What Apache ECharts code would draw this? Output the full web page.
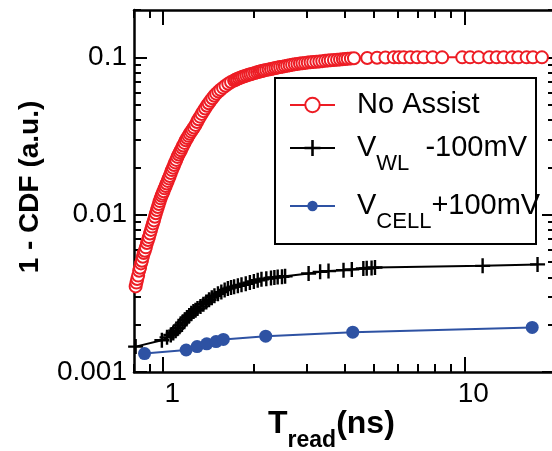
<!DOCTYPE html>
<html>
<head>
<meta charset="utf-8">
<script src="https://cdn.jsdelivr.net/npm/echarts@6/dist/echarts.min.js"></script>
<style>
  html, body { margin: 0; padding: 0; background: #fff; }
  #chart { width: 552px; height: 451px; }
</style>
</head>
<body>
<div id="chart"></div>
<script>
// No Assist (red open circles)
const noAssistT = [0.810, 0.815, 0.820, 0.826, 0.832, 0.838, 0.844, 0.850, 0.856, 0.862,
  0.869, 0.876, 0.883, 0.890, 0.897, 0.904, 0.911, 0.918, 0.925, 0.932,
  0.939, 0.946, 0.953, 0.960, 0.967, 0.974, 0.981, 0.988, 0.995, 1.003,
  1.011, 1.019, 1.027, 1.035, 1.043, 1.051, 1.060, 1.069, 1.078, 1.087,
  1.096, 1.105, 1.115, 1.125, 1.135, 1.145, 1.155, 1.165, 1.177, 1.189,
  1.201, 1.213, 1.225, 1.238, 1.251, 1.265, 1.280, 1.295, 1.310, 1.326,
  1.342, 1.360, 1.378, 1.397, 1.416, 1.436, 1.457, 1.479, 1.500, 1.525,
  1.550, 1.580, 1.610, 1.645, 1.680, 1.720, 1.740, 1.760, 1.785, 1.810,
  1.835, 1.860, 1.890, 1.920, 1.950, 1.980, 2.015, 2.050, 2.080, 2.110,
  2.140, 2.165, 2.200, 2.240, 2.280, 2.320, 2.360, 2.400, 2.445, 2.490,
  2.535, 2.580, 2.630, 2.680, 2.735, 2.790, 2.845, 2.900, 2.960, 3.020,
  3.085, 3.150, 3.225, 3.300, 3.375, 3.450, 3.525, 3.600, 3.690, 3.780,
  3.865, 3.950, 4.020, 4.100, 4.200,
  4.30, 4.76, 5.13, 5.47, 5.83, 6.06, 6.29, 6.62, 6.97, 7.33,
  7.85, 8.44, 9.84, 10.45, 11.15, 12.1, 12.8, 13.5, 14.4, 15.1,
  16.1, 16.9, 18.1];
const noAssistCdf = [0.0035, 0.0037, 0.0039, 0.0041, 0.0044, 0.0046, 0.0049, 0.0051, 0.0054, 0.0057,
  0.0059, 0.0062, 0.0066, 0.0069, 0.0072, 0.0076, 0.0080, 0.0084, 0.0088, 0.0092,
  0.0097, 0.0102, 0.0107, 0.0112, 0.0117, 0.0122, 0.0127, 0.0132, 0.0136, 0.0141,
  0.0147, 0.0152, 0.0158, 0.0164, 0.0170, 0.0176, 0.0184, 0.0192, 0.0199, 0.0207,
  0.0215, 0.0223, 0.0233, 0.0241, 0.0249, 0.0257, 0.0266, 0.0275, 0.0286, 0.0297,
  0.0307, 0.0317, 0.0327, 0.0337, 0.0347, 0.0358, 0.0372, 0.0388, 0.0404, 0.0420,
  0.0437, 0.0455, 0.0473, 0.0492, 0.0511, 0.0530, 0.0550, 0.0570, 0.0588, 0.0606,
  0.0623, 0.0642, 0.0660, 0.0679, 0.0697, 0.0713, 0.0721, 0.0729, 0.0737, 0.0745,
  0.0752, 0.0759, 0.0767, 0.0774, 0.0781, 0.0788, 0.0796, 0.0803, 0.0810, 0.0816,
  0.0821, 0.0826, 0.0832, 0.0838, 0.0844, 0.0850, 0.0855, 0.0861, 0.0867, 0.0873,
  0.0879, 0.0885, 0.0891, 0.0897, 0.0903, 0.0909, 0.0914, 0.0918, 0.0922, 0.0926,
  0.0930, 0.0934, 0.0938, 0.0942, 0.0946, 0.0950, 0.0954, 0.0958, 0.0962, 0.0966,
  0.0970, 0.0974, 0.0977, 0.0980, 0.0983,
  0.0986, 0.0991, 0.0995, 0.0998, 0.1000, 0.1000, 0.1000, 0.1000, 0.1000, 0.1000,
  0.1000, 0.1000, 0.1000, 0.1000, 0.1000, 0.1000, 0.1000, 0.1000, 0.1000, 0.1000,
  0.1000, 0.1000, 0.1000];

// V_WL -100mV (black plus)
const wlT = [0.81, 0.99, 1.03, 1.06, 1.08, 1.10, 1.12, 1.14, 1.16, 1.18,
  1.20, 1.22, 1.24, 1.26, 1.28, 1.30, 1.33, 1.36, 1.39, 1.42,
  1.45, 1.48, 1.52, 1.56, 1.60, 1.64, 1.68, 1.72, 1.77, 1.82,
  1.88, 1.94, 2.00, 2.06, 2.12, 2.20, 2.28, 2.34, 2.40, 2.48,
  2.54, 3.04, 3.32, 3.54, 3.97, 4.23, 4.62, 4.74, 4.92, 5.05,
  11.5, 17.5];
const wlCdf = [0.00145, 0.00159, 0.00166, 0.00172, 0.00177, 0.00183, 0.00190, 0.00198, 0.00206, 0.00214,
  0.00222, 0.00229, 0.00236, 0.00242, 0.00247, 0.00253, 0.00261, 0.00270, 0.00279, 0.00288,
  0.00297, 0.00305, 0.00314, 0.00322, 0.00332, 0.00339, 0.00344, 0.00348, 0.00353, 0.00358,
  0.00364, 0.00370, 0.00376, 0.00383, 0.00388, 0.00392, 0.00396, 0.00399, 0.00401, 0.00403,
  0.00406, 0.00423, 0.00433, 0.00438, 0.00444, 0.00449, 0.00455, 0.00456, 0.00459, 0.00462,
  0.00473, 0.00483];

// V_CELL +100mV (blue dots)
const cellT = [0.867, 1.192, 1.296, 1.395, 1.498, 1.584, 2.19, 4.26, 16.8];
const cellCdf = [0.00131, 0.00138, 0.00145, 0.00151, 0.00156, 0.00161, 0.00169, 0.00179, 0.00192];

// axis ticks
const xMajor = [1, 10];
const xMinor = [0.8, 0.9, 2, 3, 4, 5, 6, 7, 8, 9, 20];
const yMajor = [0.001, 0.01, 0.1];
const yMinor = [0.002, 0.003, 0.004, 0.005, 0.006, 0.007, 0.008, 0.009,
  0.02, 0.03, 0.04, 0.05, 0.06, 0.07, 0.08, 0.09, 0.2];

const FONT = '"Liberation Sans", Arial, sans-serif';
const RED = '#ED1C24';
const BLUE = '#2E52A3';
const PLUS = 'path://M6.3,0H8.7V6.3H15V8.7H8.7V15H6.3V8.7H0V6.3H6.3Z';

const zip = (a, b) => a.map((v, i) => [v, b[i]]);

const chart = echarts.init(document.getElementById('chart'));

const tickLine = { color: '#000', width: 2 };
const spine = { show: true, lineStyle: { color: '#000', width: 2.5 } };
const baseX = { type: 'log', logBase: 10, min: 0.8, max: 20, splitLine: { show: false },
  axisLine: { show: false }, axisLabel: { show: false }, axisTick: { show: false } };
const baseY = { type: 'log', logBase: 10, min: 0.001, max: 0.2, splitLine: { show: false },
  axisLine: { show: false }, axisLabel: { show: false }, axisTick: { show: false } };

const tick = (len, vals) => ({ show: true, inside: true, length: len, customValues: vals, lineStyle: tickLine });

const rich = {
  m: { fontSize: 29, fontFamily: FONT, color: '#000', lineHeight: 30, verticalAlign: 'top' },
  f: { fontSize: 29, fontFamily: FONT, color: '#000', lineHeight: 30, verticalAlign: 'top', padding: [0, 0, 0, 17] },
  s: { fontSize: 22, fontFamily: FONT, color: '#000', lineHeight: 22, verticalAlign: 'top', padding: [20, 0, 0, 0] }
};
const legendText = {
  'No Assist': '{f|No Assist}',
  'V_WL -100mV': '{f|V}{s|WL}{m|  -100mV}',
  'V_CELL +100mV': '{f|V}{s|CELL}{m|+100mV}'
};
const legendBase = {
  orient: 'vertical', padding: 0, itemWidth: 45, selectedMode: false,
  textStyle: { rich: rich },
  formatter: (name) => legendText[name]
};

chart.setOption({
  animation: false,
  backgroundColor: '#fff',
  grid: { left: 134, top: 10, right: -3, bottom: 79, containLabel: false, outerBoundsMode: 'none' },
  xAxis: [
    Object.assign({}, baseX, { position: 'bottom', axisLine: spine, axisTick: tick(15, xMajor),
      axisLabel: { show: true, customValues: xMajor, formatter: (v) => String(v), fontSize: 28,
        fontFamily: FONT, color: '#000', margin: 8, padding: [0, 0, 0, 18] } }),
    Object.assign({}, baseX, { position: 'bottom', axisTick: tick(8, xMinor) }),
    Object.assign({}, baseX, { position: 'top', axisLine: spine, axisTick: tick(15, xMajor) }),
    Object.assign({}, baseX, { position: 'top', axisTick: tick(8, xMinor) })
  ],
  yAxis: [
    Object.assign({}, baseY, { position: 'left', axisLine: spine, axisTick: tick(13, yMajor),
      axisLabel: { show: true, customValues: yMajor, formatter: (v) => String(v), fontSize: 28,
        fontFamily: FONT, color: '#000', margin: 7, padding: [6, 0, 0, 0] } }),
    Object.assign({}, baseY, { position: 'left', axisTick: tick(7, yMinor) }),
    Object.assign({}, baseY, { position: 'right', axisLine: spine, axisTick: tick(13, yMajor) }),
    Object.assign({}, baseY, { position: 'right', axisTick: tick(7, yMinor) })
  ],
  legend: [
    Object.assign({}, legendBase, { data: ['No Assist'], left: 289, top: 90, itemHeight: 18 }),
    Object.assign({}, legendBase, { data: ['V_WL -100mV'], left: 289, top: 133, itemHeight: 20 }),
    Object.assign({}, legendBase, { data: ['V_CELL +100mV'], left: 289, top: 191, itemHeight: 13 })
  ],
  graphic: [
    { type: 'rect', left: 274, top: 77, z: 3,
      shape: { width: 261, height: 166 },
      style: { fill: '#fff', stroke: '#000', lineWidth: 2 } },
    { type: 'text', x: 30, y: 187, rotation: Math.PI / 2,
      style: { text: '1 - CDF (a.u.)', font: 'bold 28px ' + FONT, fill: '#000',
        align: 'center', verticalAlign: 'middle' } },
    { type: 'text', left: 268, top: 408,
      style: { text: '{m|T}{s|read}{m|(ns)}', fill: '#000',
        rich: {
          m: { fontSize: 32, fontWeight: 'bold', fontFamily: FONT, lineHeight: 36, verticalAlign: 'top' },
          s: { fontSize: 23, fontWeight: 'bold', fontFamily: FONT, lineHeight: 24, verticalAlign: 'top', padding: [21, 0, 0, 0] }
        } } }
  ],
  series: [
    { name: 'No Assist', type: 'line', data: zip(noAssistT, noAssistCdf),
      symbol: 'emptyCircle', symbolSize: 12,
      itemStyle: { color: RED, borderColor: RED, borderWidth: 2.8 },
      lineStyle: { color: RED, width: 2 } },
    { name: 'V_WL -100mV', type: 'line', data: zip(wlT, wlCdf),
      symbol: PLUS, symbolSize: 15,
      itemStyle: { color: '#000' },
      lineStyle: { color: '#000', width: 2 } },
    { name: 'V_CELL +100mV', type: 'line', data: zip(cellT, cellCdf),
      symbol: 'circle', symbolSize: 13,
      itemStyle: { color: BLUE },
      lineStyle: { color: BLUE, width: 2 } }
  ]
});
</script>
</body>
</html>
